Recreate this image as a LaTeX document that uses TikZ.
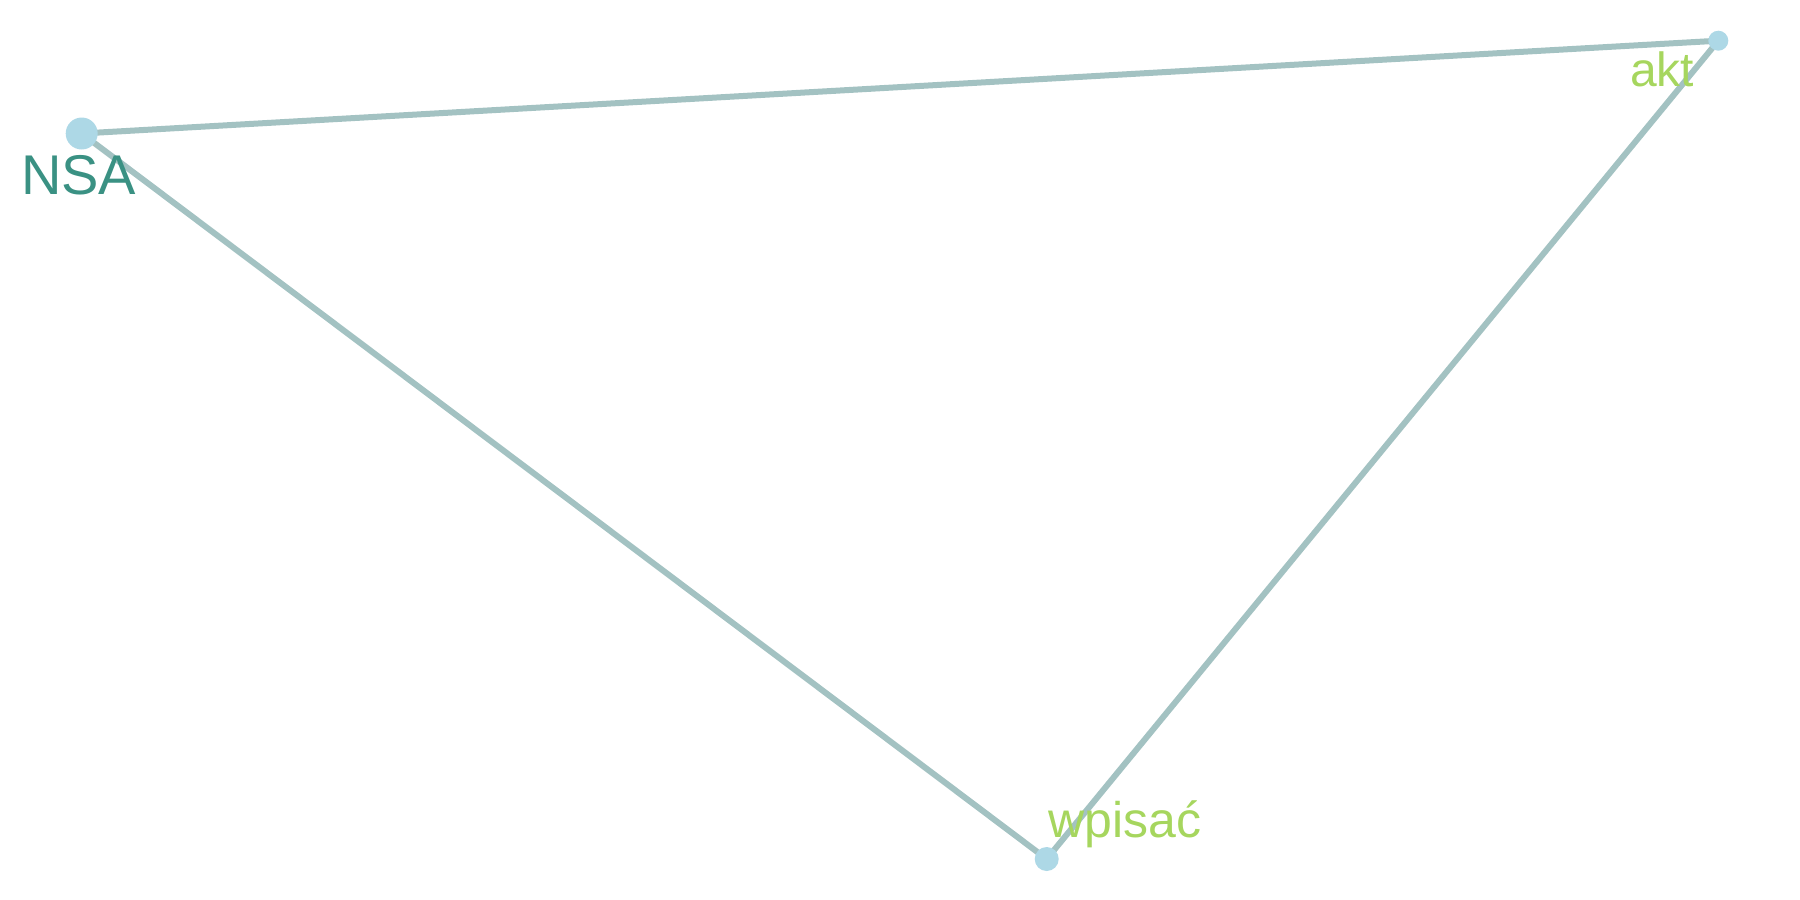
\documentclass[tikz,border=0pt]{standalone}
\usepackage{fontspec}
\setmainfont{Liberation Sans}
\definecolor{edgec}{HTML}{A3C2C2}
\definecolor{nodec}{HTML}{ADD8E6}
\definecolor{tealc}{HTML}{3A9183}
\definecolor{greenc}{HTML}{A6D65E}
\tikzset{
  vert/.style={circle, fill=nodec, draw=none, inner sep=0pt},
  edge/.style={draw=edgec, line width=6pt},
  lbl/.style={inner sep=0pt, anchor=base west},
}
\begin{document}
\begin{tikzpicture}[x=1pt,y=-1pt]
\useasboundingbox (0,0) rectangle (1800,900);
\coordinate (cN) at (81.7,133.5);
\coordinate (cA) at (1718.3,40.7);
\coordinate (cW) at (1046.7,859);
\draw[edge] (cN) -- (cA);
\draw[edge] (cN) -- (cW);
\draw[edge] (cA) -- (cW);
\node[vert, minimum size=32pt] (nsa) at (cN) {};
\node[vert, minimum size=20pt] (akt) at (cA) {};
\node[vert, minimum size=24pt] (wpi) at (cW) {};
\node[lbl, text=tealc, font=\fontsize{56}{56}\selectfont] (tnsa) at (21,194) {NSA};
\node[lbl, text=greenc, font=\fontsize{48}{48}\selectfont] (takt) at (1630,86) {akt};
\node[lbl, text=greenc, font=\fontsize{50}{50}\selectfont] (twpi) at (1048,837) {wpisać};
\end{tikzpicture}
\end{document}
